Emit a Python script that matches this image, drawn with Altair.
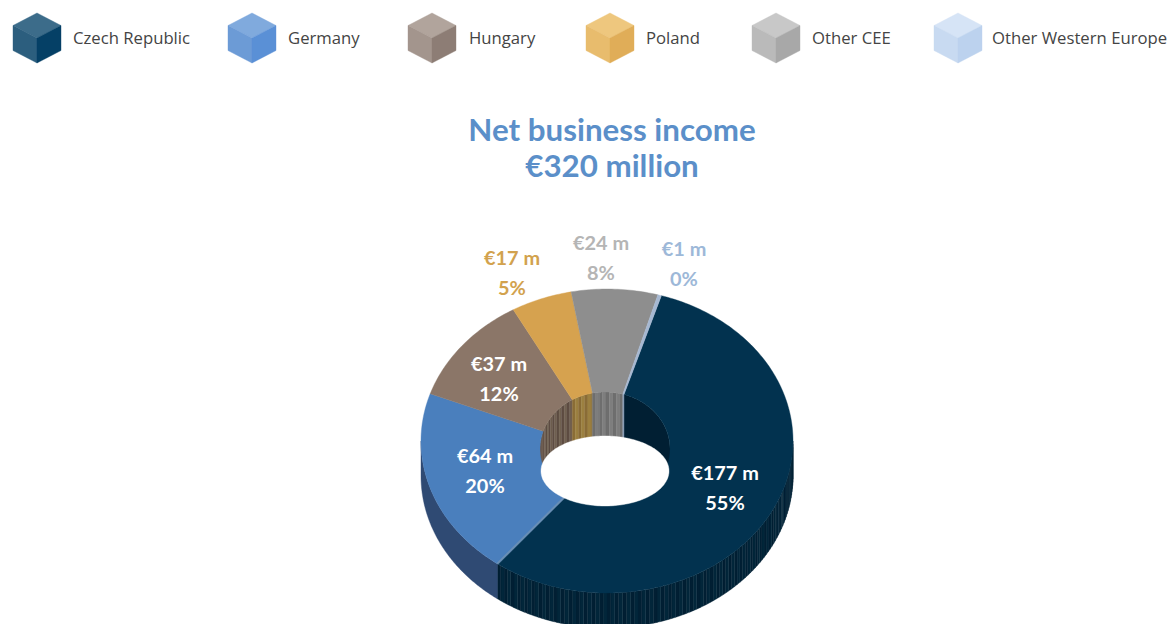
import math
import altair as alt

categories = ["Czech Republic", "Germany", "Hungary", "Poland", "Other CEE", "Other Western Europe"]
values = [177, 64, 37, 17, 24, 1]
amounts = ["€177 m", "€64 m", "€37 m", "€17 m", "€24 m", "€1 m"]
shares = ["55%", "20%", "12%", "5%", "8%", "0%"]
title_lines = ["Net business income", "€320 million"]

top_colors = ["#02324f", "#4a7fbd", "#8b7668", "#d6a24f", "#8e8e8e", "#a6b8d2"]
wall_colors = ["#011f33", "#2f4a73", "#5d4c42", "#8a6c36", "#6e6e6e", "#8a9db5"]
wall_alt_colors = ["#02263a", "#2f4a73", "#706050", "#9c8040", "#7e7e7e", "#8a9db5"]
label_colors = ["#ffffff", "#ffffff", "#ffffff", "#d2a24e", "#b5b5b5", "#9db8d8"]
cube_top = ["#3c6c8a", "#80aadd", "#b1a49c", "#eec77e", "#c8c8c8", "#d6e4f6"]
cube_left = ["#2c5e7e", "#6c9bd6", "#a3958d", "#e8bc6d", "#bababa", "#c8daf1"]
cube_right = ["#054066", "#5a90d6", "#8d7d75", "#e0ad58", "#a8a8a8", "#bcd2ee"]

# layout (image pixels)
OFF = 8
YADJ = 1
TEXT_YADJ = 1
START = 17.0
CX, CY, RX, RY, DEPTH = 607, 440, 186, 152, 35
ICX, ICY, IRX, IRY, IDEPTH = 605, 448, 65, 57, 45
HCY, HRX, HRY = 470, 64, 35
cube_cx = [37, 252, 432, 610, 776, 958]
legend_text_x = [73, 288, 469, 646, 812, 992]
label_pos = [(725, 472), (485, 455), (499, 363), (512, 257), (601, 242), (684, 248)]
LINE = 30


def P(x, y):
    return [x - OFF, y - OFF + YADJ]


def T(x, y):
    return [x - OFF, y - OFF + YADJ + TEXT_YADJ]


def ell(cx, cy, rx, ry, deg):
    t = math.radians(deg)
    return P(cx + rx * math.sin(t), cy - ry * math.cos(t))


def feature(points, color):
    pts = [list(p) for p in points]
    pts.append(pts[0])
    return {"type": "Feature", "properties": {"color": color},
            "geometry": {"type": "Polygon", "coordinates": [pts]}}


def arange(a, b, step=1.0):
    n = max(2, int(abs(b - a) / step) + 2)
    return [a + (b - a) * i / (n - 1) for i in range(n)]


def band(cx, cy, rx, ry, depth, lo, hi):
    upper = [ell(cx, cy, rx, ry, d) for d in arange(lo, hi, 0.5)]
    lower = [ell(cx, cy + depth, rx, ry, d) for d in arange(hi, lo, 0.5)]
    return upper + lower


def striped(cx, cy, rx, ry, depth, lo, hi, i, step):
    out = []
    d = lo
    k = 0
    while d < hi:
        e = min(d + step, hi)
        color = wall_alt_colors[i] if k % 2 else wall_colors[i]
        out.append(feature(band(cx, cy, rx, ry, depth, d, e), color))
        d = e
        k += 1
    return out


total = sum(values)
spans = []
cur = START
for v in values:
    spans.append((cur, cur + v / total * 360))
    cur += v / total * 360

features = []
# outer side wall, visible on the near half only
for i, (a, b) in enumerate(spans):
    for shift in (0, 360):
        lo, hi = max(a + shift, 90), min(b + shift, 270)
        if lo < hi:
            if i == 0:
                features += striped(CX, CY, RX, RY, DEPTH, lo, hi, i, 1.2)
            else:
                features.append(feature(band(CX, CY, RX, RY, DEPTH, lo, hi), wall_colors[i]))
# inner wall, far half only
for i, (a, b) in enumerate(spans):
    for shift in (0, -360):
        lo, hi = max(a + shift, -90), min(b + shift, 90)
        if lo < hi:
            j = 2 if i == 1 else i
            if i == 0:
                features.append(feature(band(ICX, ICY, IRX, IRY, IDEPTH, lo, hi), wall_colors[i]))
            else:
                features += striped(ICX, ICY, IRX, IRY, IDEPTH, lo, hi, j, 3.0)
# top face
for i, (a, b) in enumerate(spans):
    outer = [ell(CX, CY, RX, RY, d) for d in arange(a, b)]
    inner = [ell(ICX, ICY, IRX, IRY, d) for d in arange(b, a)]
    features.append(feature(outer + inner, top_colors[i]))
# lighter seam between Germany and the Czech Republic
seam = spans[0][1]
features.append(feature(
    [ell(CX, CY, RX, RY, seam - 0.3), ell(CX, CY, RX, RY, seam + 0.3),
     ell(ICX, ICY, IRX, IRY, seam + 0.8), ell(ICX, ICY, IRX, IRY, seam - 0.8)], "#6a8fb5"))
# hole
features.append(feature([ell(ICX, HCY, HRX, HRY, d) for d in arange(0, 360, 2)], "#ffffff"))

# legend cubes
W, H = 24, 25
for i, cx in enumerate(cube_cx):
    c = P(cx, 37)
    x, y = c
    features.append(feature([[x, y - H], [x + W, y - H / 2], c, [x - W, y - H / 2]], cube_top[i]))
    features.append(feature([[x - W, y - H / 2], c, [x, y + H], [x - W, y + H / 2]], cube_left[i]))
    features.append(feature([c, [x + W, y - H / 2], [x + W, y + H / 2], [x, y + H]], cube_right[i]))

projection = alt.Projection(type="identity", scale=1, translate=[0, 0])

shapes = alt.Chart(
    alt.InlineData(values={"type": "FeatureCollection", "features": features},
                   format=alt.DataFormat(property="features", type="json"))
).mark_geoshape(strokeWidth=0.4).encode(
    fill=alt.Fill("properties.color:N", scale=None),
    stroke=alt.Stroke("properties.color:N", scale=None),
)

label_rows = []
for i in range(len(categories)):
    px, py = label_pos[i]
    a = T(px, py)
    b = T(px, py + LINE)
    label_rows.append({"x": a[0], "y": a[1], "t": amounts[i], "c": label_colors[i]})
    label_rows.append({"x": b[0], "y": b[1], "t": shares[i], "c": label_colors[i]})
labels = alt.Chart(alt.Data(values=label_rows)).mark_text(
    font="Lato", fontWeight="bold", fontSize=19.9, align="center", baseline="middle"
).encode(longitude="x:Q", latitude="y:Q", text="t:N", color=alt.Color("c:N", scale=None))

legend_rows = [{"x": T(x, 37)[0], "y": T(x, 37)[1], "t": t} for x, t in zip(legend_text_x, categories)]
legend_text = alt.Chart(alt.Data(values=legend_rows)).mark_text(
    font="Open Sans", fontSize=16.7, align="left", baseline="middle", color="#444444"
).encode(longitude="x:Q", latitude="y:Q", text="t:N")

title_rows = [{"x": T(612, y)[0], "y": T(612, y)[1], "t": t} for y, t in zip([130, 166], title_lines)]
title_text = alt.Chart(alt.Data(values=title_rows)).mark_text(
    font="Lato", fontWeight="bold", fontSize=31.3, align="center", baseline="middle", color="#5b8fc9"
).encode(longitude="x:Q", latitude="y:Q", text="t:N")

chart = alt.layer(shapes, labels, legend_text, title_text, projection=projection).properties(
    width=1160, height=616, padding=0
).configure_view(stroke=None)

chart.save("out.html", embed_options={"renderer": "svg", "actions": False})
